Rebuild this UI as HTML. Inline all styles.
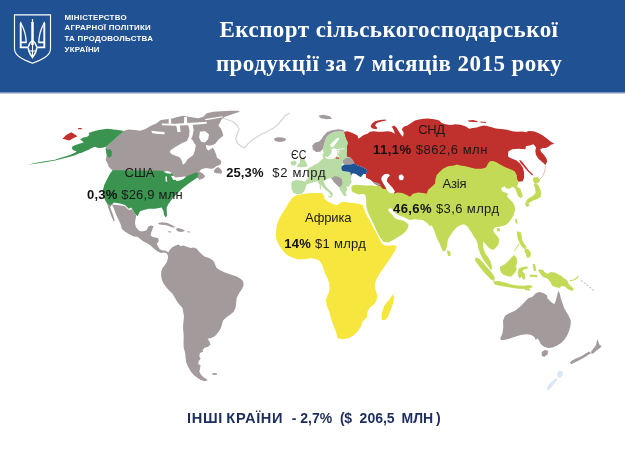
<!DOCTYPE html>
<html lang="uk">
<head>
<meta charset="utf-8">
<title>Експорт сільськогосподарської продукції</title>
<style>
html,body{margin:0;padding:0;}
body{width:625px;height:468px;overflow:hidden;background:#fff;position:relative;font-family:"Liberation Sans",sans-serif;}
#hdr{position:absolute;left:0;top:0;width:625px;height:91.5px;background:#205192;}
#hdr:after{content:"";position:absolute;left:0;right:0;bottom:-2px;height:2px;background:linear-gradient(#5d7db5,#dfe6f1);}
#min{position:absolute;left:64.5px;top:12.6px;color:#fff;font-weight:bold;font-size:7.9px;line-height:10.85px;letter-spacing:0.25px;white-space:nowrap;}
#title{position:absolute;left:150px;width:478px;top:12.8px;text-align:center;color:#fff;font-family:"Liberation Serif",serif;font-weight:bold;font-size:23px;letter-spacing:0.45px;line-height:34px;white-space:nowrap;}
#map{position:absolute;left:0;top:0;filter:blur(0.45px);}
.lb{position:absolute;white-space:nowrap;color:#1a1a1a;font-size:13px;line-height:14px;}
.lb b{font-weight:bold;color:#111;}
#foot{position:absolute;left:0;top:409.6px;font-weight:bold;font-size:14px;line-height:16px;color:#1c2d5e;white-space:pre;}
#foot span{position:absolute;top:0;}
</style>
</head>
<body>
<svg id="map" width="625" height="468" viewBox="0 0 625 468">
<path d="M123.5 131 L128 129.5 L135 130 L140.0 130.8 L145.0 129.2 L149.2 126.7 L152.5 125.0 L156.7 123.3 L160.8 120.0 L166.7 119.2 L173.3 118.3 L178.3 116.7 L183.3 115.8 L188.3 116.7 L193.3 117.5 L198.3 118.3 L203.3 116.7 L206.7 113.3 L213.3 111.7 L221.7 111.2 L230.0 110.8 L237.5 110.8 L240.0 111.7 L235.0 113.3 L230.0 115.0 L225.0 116.7 L221.7 119.2 L220.0 122.5 L218.3 125.8 L220.8 128.3 L222.5 132.5 L223.3 135.8 L220.0 138.3 L217.5 140.8 L215.8 143.3 L213.3 145.0 L210.8 146.7 L212.7 147.7 L214.6 150.6 L216.1 154.4 L217.0 157.8 L219.4 159.2 L221.3 161.2 L220.9 164.0 L218.5 165.5 L216.5 166.0 L214.1 167.9 L211.7 168.8 L208.8 168.4 L206.0 167.9 L203.1 168.8 L200.7 169.8 L199.2 171.7 L200.7 172.2 L203.1 173.7 L205.0 176.1 L204.0 178.0 L201.6 178.9 L199.2 179.9 L198.3 178.0 L194.4 178.5 L184.8 176.5 L150 180 L113 171 L111.2 169.3 L108.7 166.8 L107.4 163.1 L105.6 160 L106.5 156 L106 150 L106.2 146.8Z" fill="#a39a9b"/>
<path d="M170.8 150.0 L175.8 146.7 L181.7 143.3 L187.5 140.8 L190.0 138.7 L192.5 140.0 L194.2 143.3 L195.8 145.0 L195.0 150.0 L193.3 155.0 L190.0 157.5 L187.5 159.2 L185.0 163.3 L183.0 164.7 L181.7 160.8 L180.0 157.5 L175.8 155.8 L171.7 154.2 L169.7 152.0Z" fill="#ffffff"/>
<path d="M199.9 131.8 L204.9 131.0 L208.9 134.3 L208.2 139.0 L204.9 142.5 L201.2 141.8 L199.1 137.5Z" fill="#ffffff"/>
<path d="M187.5 147.4 L190.9 139.7 L192.4 136.0 L189.2 136.0 L187.5 139.7 L185.0 146.8Z" fill="#ffffff"/>
<path d="M205.8 145.0 L210.0 145.8 L213.3 144.7 L212.0 148.3 L208.3 150.8 L206.3 148.3Z" fill="#ffffff"/>
<path d="M161.9 123.5 L175.0 123.7 L187.5 123.1 L199.9 122.2 L206.8 121.7 L206.8 123.7 L199.9 124.2 L187.5 125.2 L175.0 125.7 L161.9 125.2Z" fill="#ffffff"/>
<path d="M176.2 125.0 L179.7 125.0 L180.7 131.8 L177.5 132.2Z" fill="#ffffff"/>
<path d="M188.1 124.7 L192.7 124.7 L193.7 130.0 L192.4 136.2 L189.2 136.2 L189.5 130.0Z" fill="#ffffff"/>
<path d="M151.2 130.7 L157.5 131.5 L164.4 132.0 L164.7 134.2 L157.5 134.0 L152.5 133.2Z" fill="#ffffff"/>
<path d="M184.2 117.0 L187.0 117.0 L187.2 123.7 L184.0 123.7Z" fill="#ffffff"/>
<path d="M168.7 117.5 L171.0 117.5 L171.2 123.7 L168.7 123.7Z" fill="#ffffff"/>
<path d="M204.9 119.0 L214.9 117.5 L222.4 116.2 L223.0 117.2 L214.9 118.7 L205.6 120.2Z" fill="#ffffff"/>
<path d="M213.7 170.8 L216.1 167.9 L218.0 166.9 L219.9 168.4 L221.3 169.8 L222.3 172.2 L220.9 173.7 L218.5 173.2 L216.1 173.2 L214.1 172.2Z" fill="#a39a9b"/>
<path d="M88.7 133.1 L93.7 131.2 L99.9 129.7 L107.4 128.7 L113.7 129.4 L119.9 130.2 L123.7 131 L106.2 146.8 L102.4 147.7 L98.1 148.1 L95 146.8 L91.8 148.1 L88.7 149.7 L85 151.2 L81.8 152.7 L78.7 153.5 L75 155.2 L70 156.8 L65 158.1 L60 159.3 L55 160.6 L45 162.3 L35 163.8 L27.5 164.7 L35 163 L45 161.3 L55 159.7 L60 158.1 L65 156.6 L70 155 L75 152.7 L76.8 151.2 L73.7 150.6 L71.9 148.7 L72.5 146.2 L75.6 145 L79.3 143.7 L83.7 142.5 L81.8 140.6 L80 139.4 L83.1 137.5 L86.8 136.9 L89.3 135Z" fill="#3a934e"/>
<path d="M106.2 146.8 L106.8 150 L109.9 149 L111.8 151.2 L111.8 155.6 L109.9 157.5 L107.4 156.8 L106.8 153.7 L105.5 149Z" fill="#3a934e"/>
<path d="M62.5 138.7 L66.2 135 L71.2 132.2 L73.7 133.7 L77.5 136.2 L73.7 138.1 L69.4 140.6 L65.6 139.4Z" fill="#c0302d"/>
<path d="M78.1 128.1 L81.8 128 L81.8 129.2 L78.1 129.2Z" fill="#c0302d"/>
<path d="M112.5 170.3 L163.3 170.8 L161.7 170.8 L165.0 171.3 L171.7 172.5 L173.3 175.8 L175.8 180.0 L180.0 180.0 L184.2 178.3 L187.5 175.8 L191.7 174.2 L195.8 172.5 L198.3 173.3 L197.5 176.7 L195.0 179.2 L190.0 182.5 L185.8 185.8 L182.5 188.3 L180.0 190.8 L176.7 194.2 L173.3 197.5 L170.8 200.8 L168.3 204.2 L166.7 207.5 L166.7 211.7 L167.0 215.8 L165.8 217.5 L164.2 215.0 L163.3 210.8 L161.7 207.5 L155.0 208.8 L148.8 208.8 L143.8 210.0 L140.0 211.2 L137.5 216.2 L135.0 213.8 L131.2 207.5 L128.8 208.8 L125.0 205.0 L121.2 203.8 L113.8 202.5 L110.0 206.7 L107.5 204.2 L105.0 200.0 L103.3 195.0 L103.0 190.0 L104.2 185.0 L106.7 180.0 L109.2 175.0Z" fill="#3a934e"/>
<path d="M163.3 171.7 L167.5 171.0 L172.0 172.7 L170.8 173.8 L166.7 173.3Z" fill="#ffffff"/>
<path d="M165.3 176.7 L166.8 176.3 L167.2 181.7 L165.8 181.7Z" fill="#ffffff"/>
<path d="M170.8 175.7 L174.2 176.0 L176.0 179.7 L173.3 180.0Z" fill="#ffffff"/>
<path d="M176.0 180.0 L180.0 179.3 L183.7 177.7 L184.0 178.7 L180.0 180.5 L176.3 181.0Z" fill="#ffffff"/>
<path d="M108.7 203.7 L113.7 204.7 L119.3 205.2 L125 206.2 L127.5 208.7 L129.3 209.9 L131.8 209.3 L133.7 211.2 L135.6 214.3 L136.2 215.6 L135.6 218.7 L135 222.5 L135.6 226.2 L137.5 229.3 L140 231.2 L143.7 231.2 L146.8 230 L148.1 226.8 L150.6 225.6 L153.7 226.2 L152.4 229.3 L151.2 232.5 L150.6 235.6 L152.4 236.8 L154.9 237.5 L158.1 238.1 L158.7 241.2 L156.8 243.7 L158.1 246.8 L159.9 249.3 L162.4 250.6 L164.9 250.4 L167.5 251.8 L169.5 254 L169.3 258 L168 254.9 L166.2 253.1 L163.7 252.4 L161.2 253.1 L158.1 251.8 L155.6 249.9 L153.1 248.1 L150.6 245.6 L146.8 243.1 L143.1 241.2 L140 238.7 L137.5 236.8 L133.7 236.5 L129.3 234.3 L125 231.8 L121.8 228.7 L120.6 224.3 L118.7 220 L116.2 215 L114.4 210 L112.5 205.6Z" fill="#a39a9b"/>
<path d="M107.5 203.7 L109.4 204.4 L111.2 210 L113.1 215 L114.7 220.6 L113.7 221.5 L111.9 217.5 L110 212.5 L108.1 207.5Z" fill="#a39a9b"/>
<path d="M158.1 223.1 L162.4 222.2 L167.4 223.1 L171.8 225 L174.9 226.8 L173.7 227.7 L169.9 226.5 L165.5 225 L161.2 224.7 L158.7 224.3Z" fill="#a39a9b"/>
<path d="M175.6 228.7 L178.7 228.1 L183.1 229.4 L185 231 L181.2 231.9 L177.5 231.2Z" fill="#a39a9b"/>
<path d="M187.5 231.2 L190 231.4 L190 232.4 L187.5 232.2Z" fill="#a39a9b"/>
<path d="M168.1 231.2 L171.2 231.4 L171.2 232.4 L168.1 232.2Z" fill="#a39a9b"/>
<path d="M167.5 253.7 L169.4 250.6 L171.9 247.5 L175.6 245.6 L178.7 244.4 L180.6 246.2 L183.1 245.6 L186.8 246.8 L190.6 248.1 L193.7 247.5 L196.8 248.7 L198.7 251.2 L201.8 254.3 L204.9 256.8 L209.3 258.1 L213.1 260.6 L214.9 263.7 L216.2 267.4 L219.9 269.9 L224.9 272.4 L229.9 274.3 L236.2 276.2 L240.6 278.7 L243.1 281.2 L243.7 285 L241.8 289.3 L239.3 293.1 L236.8 297.5 L236.2 302.5 L235.6 307.4 L233.7 311.8 L229.9 314.9 L226.2 317.4 L223.1 320.5 L221.8 325 L220.6 328.7 L218.1 332.5 L214.9 336.2 L211.2 338.1 L207.5 338.7 L209.3 341.2 L210.6 344.4 L208.1 346.8 L204.3 348.1 L202.5 350 L203.1 351.8 L200 353.1 L199.3 356.2 L200.6 358.7 L198.7 361.2 L198.1 363.7 L200.6 365.6 L200 368.7 L199.3 371.8 L201.2 374.9 L203.7 377.4 L206.8 379.3 L207.5 380.6 L204.3 381.2 L201.2 379.9 L197.5 378.1 L193.7 374.9 L190.6 371.2 L188.1 366.8 L186.2 362.5 L185.6 357.5 L185 352.5 L183.7 347.5 L183.5 342.5 L183.7 337.5 L183.5 332.5 L183.1 328.7 L183.1 325 L184 316.7 L182.5 308 L178 303 L172.5 293.7 L167.5 288.7 L163.7 283.7 L161.9 279.9 L161.2 276.2 L161.2 271.8 L162.5 268.1 L165 264.9 L166.9 261.8 L168.1 257.5Z" fill="#a39a9b"/>
<path d="M212.4 373.1 L216.8 373.3 L216.8 374.9 L212.4 374.7Z" fill="#a39a9b"/>
<path d="M292.5 197.5 L296.7 195.3 L301.7 194.2 L308.3 193.3 L315.8 193 L321.7 193 L323.7 195 L324.7 199.2 L328.3 201.7 L333.3 204.2 L337.5 205.3 L340 202.8 L343.3 201.7 L348.3 202.5 L353.3 203 L358.3 203.7 L362.5 204.7 L363.3 206.7 L365 211.7 L367.5 216.7 L370 220.8 L372.5 225.8 L375 230.8 L377.5 235 L380 240 L382 243.5 L384.2 245.2 L388.3 245.8 L393.3 245.3 L396.7 245.8 L395.3 250 L392.5 255 L389.2 260 L385 265.8 L381.7 270.8 L378.3 275.8 L375.8 280.8 L374.7 285.8 L375.8 290.8 L377.5 295.8 L376.7 300 L374.2 304.2 L370 307.5 L367.5 311.7 L366.7 317.5 L362.5 321.7 L360.8 326.7 L357.5 331.7 L353.3 335.8 L348.3 338.3 L342.5 339.2 L337.5 338.3 L336.7 334.2 L335 329.2 L332.5 323.3 L330.8 317.5 L329.2 311.7 L326.7 305.8 L325.8 300 L327.5 295 L328.7 293.3 L329.7 288.3 L329.2 283.3 L327.5 278.3 L325 273.3 L323.3 268.3 L322 264.2 L319.5 260.8 L315.3 258.7 L310.3 258.3 L304.5 259.2 L297.8 259.2 L292 257.5 L287 255 L282.8 250.8 L279.5 245.8 L277 240.8 L275.7 235.8 L276.2 230.8 L276.7 225 L278.7 220 L281.2 215 L284.5 210 L288.3 203.5Z" fill="#f6e63e"/>
<path d="M392.5 294.2 L394.2 297.5 L393.3 302.5 L391.7 307.5 L389.7 312.5 L387.5 317.5 L385 320.3 L382 320 L381.3 315.8 L382.5 310.8 L384.2 305.8 L386.7 302.5 L389.7 299.2Z" fill="#f6e63e"/>
<path d="M352.5 185.6 L357.5 184.4 L365 185 L372.5 185.6 L376.8 186.2 L382 182 L400 172 L440 160 L490 152 L512 160 L518.5 181.8 L517.8 184.3 L517.2 186.8 L520.3 188.7 L521.6 192.5 L522.8 196.2 L521 198.1 L518.5 196.8 L517.2 193.7 L516 190.6 L514.7 188.1 L512.2 186.8 L509.7 188.7 L506.6 188.5 L504.7 186.2 L501 188.1 L502.2 191.2 L505.4 192.5 L507.9 193.7 L507.2 196.8 L509.7 199.3 L512.9 202.4 L514.7 206.2 L515.2 209.9 L514.3 212.5 L513.1 216.2 L511.2 219.3 L508.7 222.5 L505.6 225 L501.8 226.2 L498.7 226.8 L495 227.5 L493.1 230 L494.3 233.1 L496.8 235.6 L499.3 239.3 L498.7 243.7 L496.8 246.8 L493.3 250 L489.2 248.3 L485.8 244.2 L483.3 241.7 L482 245 L482.5 250 L484.2 255.8 L486.7 260 L490 264.2 L492 268.3 L490.8 270 L489.2 266.7 L485.8 263.3 L482.5 258.3 L480 253.3 L478.3 248.3 L477.5 243.3 L475.8 239.2 L473.3 235.8 L471.7 232.5 L469.7 230 L467.2 226.2 L464 224.3 L459.7 225.6 L455.9 228.1 L452.8 231.8 L449.7 236.2 L447.8 240 L447.2 245 L445.9 250 L443.4 251.8 L441.6 248.7 L439.7 243.7 L437.2 238.7 L435.3 233.7 L433.5 228.7 L431.6 225.3 L429.7 226.2 L427.2 223.1 L422.8 220 L419.9 219.7 L414.9 219.3 L409.9 220 L406.8 218.7 L403.1 216.8 L399.3 215.6 L396.2 213.7 L393.7 210.6 L390.6 208.1 L388.1 209.3 L388.7 211.2 L391.8 214.3 L394.3 217.5 L396.8 219.3 L399.3 219.7 L403.1 220.6 L406.8 223.1 L408.7 224.9 L407.9 228.1 L405.4 231.8 L401.6 235 L397.2 237.5 L393.3 240 L388.3 242.5 L383.3 241.7 L380.6 238 L378.7 234.9 L376.2 229.9 L373.1 223.1 L370 216.8 L367.5 211.2 L366.2 205.6 L366.2 200 L365.6 195.6 L363.7 193.7 L358.7 194.4 L353.7 192.5 L351.9 191.2 L351.2 187.5Z" fill="#c2da55"/>
<path d="M447.2 250 L450.3 251.8 L450.9 255.6 L448.4 256.2 L447.2 253.1Z" fill="#c2da55"/>
<path d="M496.8 228.3 L499.5 228.1 L500 231 L497.2 231.4Z" fill="#c2da55"/>
<path d="M515.2 218.7 L517.2 219.2 L517.4 223.7 L515.6 223.2Z" fill="#c2da55"/>
<path d="M343.7 131.8 L347.5 131.2 L352.5 133.1 L357.5 135.6 L358.5 138.7 L360.3 137.5 L363.7 135 L367.5 133.7 L370 131.8 L373.7 131.2 L377.5 131.8 L382.4 131.8 L387.4 131.2 L391.2 131.8 L394.9 133.7 L393.7 130 L391.8 126.8 L394.3 125.6 L396.8 128.1 L398.7 131.2 L401.2 135 L403 136.8 L403.7 133.1 L401.8 129.3 L403.7 126.8 L407.4 125.6 L411.2 123.1 L414.9 120.6 L418 119.7 L423 118.7 L428 118.5 L434.2 119.3 L439.2 120.6 L441.7 123.1 L445.5 124.3 L450.5 125 L455.5 124.3 L460.4 124.7 L465.4 126.2 L469.2 128.7 L472.9 128.1 L476.7 127.5 L480.4 126.2 L484.2 125.6 L487.9 126.2 L491.7 127.2 L496 128.4 L501 129 L507.2 129.7 L512.2 131.2 L517.2 131.8 L522.2 131.5 L526 132.2 L528.5 131 L533.5 131.2 L538.4 133.1 L542.8 135.6 L547.2 138.7 L550.9 141.8 L554.4 143.7 L550.9 144.7 L548.4 146.8 L545.9 148.1 L542.8 148.1 L540.3 149.3 L540.9 151.8 L544.1 154.9 L546.6 158.7 L547.2 161.2 L545.5 165 L542.2 161.9 L538.4 158.7 L536 154.9 L535.3 151.2 L536 147.4 L533.5 144.3 L529.7 145.6 L526 146.2 L525.3 149.3 L518.5 148.7 L512.2 149.3 L508.5 151.2 L507.9 154.9 L508.5 156.9 L512.2 158.7 L516.6 160.6 L520.3 163.7 L522.8 167.5 L524.1 172.5 L524.1 177.5 L522.8 181.2 L518.5 181.8 L517.2 179.3 L516.6 175 L514.7 171.2 L511 169.4 L506 167.5 L501 165 L496 161.9 L492.9 161 L489.8 161.2 L487.9 163.7 L486 167.5 L481.7 168.7 L475.4 168.7 L470.4 167.5 L465.4 166.2 L460.4 165.6 L456.7 164.4 L454.2 165.6 L448 166.2 L443 168.7 L439.8 171.8 L436.7 175 L435.5 179.3 L434.9 183.7 L431.7 186.8 L428 190 L426.7 193.7 L423 193.1 L418 192.4 L413 193.7 L409.9 196.8 L406.8 194.9 L402.4 193.1 L397.4 192.4 L393.7 193.7 L386.2 189.3 L382.7 188.7 L380.6 186.2 L376.8 185 L373.7 183.1 L370.6 180 L366.2 178.1 L365.6 174.3 L367.2 172.1 L366.5 169.6 L362.2 167.1 L357.2 165.2 L354.1 163.3 L352.8 160.2 L349.7 157.1 L345.9 156.7 L345.9 154 L346.9 150.8 L346.6 147.1 L347.8 142.7 L345.9 139 L344.7 135.2Z" fill="#c0302d"/>
<path d="M370.6 126.8 L371.8 123.7 L375 121.2 L380 120 L385.6 119.4 L386.2 120.6 L381.2 121.6 L376.8 123.1 L375 125.6 L377.5 128.1 L376.2 129.3 L372.5 128.5Z" fill="#c0302d"/>
<path d="M467.9 120.6 L473 120 L477.9 121.2 L477 122.3 L469 121.8Z" fill="#c0302d"/>
<path d="M480.4 121.6 L486 121.9 L486 122.9 L480.4 122.5Z" fill="#c0302d"/>
<path d="M381.8 176.8 L384.3 174.3 L388.1 173.7 L390 175.6 L387.5 178.1 L386.8 181.2 L389.3 184.3 L392.4 187.5 L394.9 191.2 L393.7 193.7 L390 193.1 L386.8 190 L385 186.2 L382.7 182.5 L381.2 179.3Z" fill="#ffffff"/>
<path d="M398.9 175.6 L401.8 174.3 L403.9 176.8 L403.1 180 L399.9 180.2 L398.7 178.1Z" fill="#ffffff"/>
<path d="M519.1 160 L521 160.6 L524.7 165 L528.5 170 L532.2 173.7 L533.5 175.6 L531.6 175 L527.8 171.2 L524.1 166.9 L520.3 162.5Z" fill="#c0302d"/>
<path d="M545.8 166 L544.5 172 L542 177 L539.5 179.5" fill="none" stroke="#e9a9ac" stroke-width="0.8"/>
<path d="M373.1 181.8 L376.8 182.5 L380.6 184.3 L380 185.8 L376.2 184.6 L373.7 183.6Z" fill="#a39a9b"/>
<path d="M307.5 168.7 L311.2 166.8 L314.3 165 L318.1 163.1 L321.2 160 L323.1 158.7 L322.4 153.7 L324.9 153.7 L325.6 158.1 L328.7 159.3 L332.4 158.7 L336.2 158.1 L339.1 157.7 L337.8 154 L339.1 152.1 L339.7 150.2 L343.4 149 L346.6 147.7 L347 157 L342.8 160.2 L342.8 163.3 L341.6 166.4 L341.2 168.3 L342.2 170.8 L345.9 171.4 L349.7 172.1 L351.8 176.2 L351.2 178.7 L351.9 182.5 L350 184.5 L348.7 186.8 L346.2 186.8 L347.4 189.3 L345.5 192.5 L346.8 195.6 L344.3 196.2 L342.4 193.7 L340.5 190.6 L338.7 186.8 L336.2 184.3 L333.7 181.8 L331.2 178.1 L326 179.3 L323.7 181.8 L324.9 185 L327.4 188.1 L329.9 190.6 L332.4 193.1 L333.1 195.6 L331.2 196.2 L329.9 193.7 L328.1 191.8 L325.6 190 L323.1 187.5 L321.2 185 L318.7 183.7 L317.5 181.2 L315 181.8 L311.2 183.1 L306.8 184.3 L305.6 187.5 L304.3 191.2 L301.8 193.7 L297.5 194.3 L293.7 193.1 L291.9 190 L291.2 185.6 L291.9 181.2 L296.2 180 L300.6 180.6 L305 181.5 L307.5 178.7 L308.7 175 L308.1 172.5Z" fill="#b8dca3"/>
<path d="M300 158.7 L304.3 158.1 L305.6 161.8 L307.5 165 L306.8 166.8 L301.2 167.2 L296.8 166.8 L298.1 164.3 L300 162.5Z" fill="#b8dca3"/>
<path d="M290.6 161.8 L295 160.6 L296.8 163.1 L295 165.6 L291.2 165.2Z" fill="#b8dca3"/>
<path d="M319.7 184.3 L320.9 184.5 L321 189.3 L319.7 189.1Z" fill="#b8dca3"/>
<path d="M328.1 195.8 L331.8 196.3 L331.5 197.8 L328.5 197.2Z" fill="#b8dca3"/>
<path d="M325.3 139.6 L327.2 135.9 L330.3 133.4 L334.7 131.7 L339.7 131.2 L344.1 131.5 L344.7 135.2 L345.9 139 L347.8 142.7 L346.6 147.1 L346.6 150 L338 151 L337.5 157 L329.7 157.4 L326.6 157.1 L324.1 155.2 L322.8 149 L324.1 144Z" fill="#b6dca6"/>
<path d="M337.8 137.8 L339.2 138.5 L338.5 140.3 L336.7 142.2 L335.2 144.3 L333.8 146.5 L331.6 147.2 L330.2 146.2 L330.5 144 L332.3 142.5 L334.1 141.1 L335.6 139.3Z" fill="#ffffff"/>
<path d="M331.2 149.1 L333.8 148.3 L336.3 149.1 L341 148.7 L344.7 148.5 L344.7 149.1 L341 149.4 L337.4 150.1 L337.1 152.7 L337.4 154.9 L336 156.7 L333.8 157.4 L331.6 157 L329.4 157.8 L327.6 157.4 L329.4 155.6 L331.2 153.4 L331.6 151.2Z" fill="#ffffff"/>
<path d="M312.2 145.8 L314.7 142.7 L319.1 141.5 L321.6 139 L324.1 135.2 L327.2 132.1 L332.2 130.2 L338.4 129.2 L343.4 130 L344.1 131.5 L339.7 131.2 L334.7 131.7 L330.3 133.4 L327.2 135.9 L325.3 139.6 L324.1 144 L322.8 149 L320.3 151.7 L316 152.1 L312.9 149.6Z" fill="#a39a9b"/>
<path d="M342.8 160.2 L345.9 157.7 L349.7 157.1 L352.8 160.2 L354.1 163.3 L350.9 164.6 L345.9 164.6 L342.8 163.3Z" fill="#a39a9b"/>
<path d="M341.6 166.4 L344.1 164.6 L350.9 164.6 L354.1 163.3 L357.2 165.2 L362.2 167.1 L366.5 169.6 L367.2 172.1 L365.6 174.3 L362.5 175 L361.2 176.8 L360.3 177.7 L358.4 175.8 L355.9 173.9 L352.8 173.3 L350.9 175.2 L349.7 172.1 L345.9 171.4 L342.2 170.8 L341.2 168.3Z" fill="#205296"/>
<path d="M349.7 172.1 L350.9 172.4 L351.8 175.8 L350.9 175.2Z" fill="#a39a9b"/>
<path d="M335.7 157.3 L339.1 157.5 L339.1 158.8 L335.7 158.6Z" fill="#c0302d"/>
<path d="M331.2 178.1 L334.9 176.2 L338.7 176.8 L341.8 179.3 L342.4 183.1 L341.2 186.2 L338.7 186.8 L336.2 184.3 L333.7 181.8Z" fill="#a39a9b"/>
<path d="M273.7 138.7 L277.5 137.2 L282.5 137.5 L286.2 138.7 L285 141 L280 141.9 L275.6 141.2Z" fill="#a39a9b"/>
<path d="M318.3 115.8 L323.3 114.7 L330 116.3 L332 118.7 L326.7 119.3 L320.8 118.3Z" fill="#a39a9b"/>
<path d="M351.9 175.6 L355.6 175 L358.7 176.2 L361.9 177.5 L366.2 178.1 L370.6 180 L373.7 183.1 L371.2 185 L366.2 185.6 L360 185 L355 184.3 L351.9 182.5 L351.2 178.7Z" fill="#ffffff"/>
<path d="M362.8 173.8 L365.4 174.2 L366.2 176.6 L363.5 176.4Z" fill="#ffffff"/>
<path d="M222.5 118.0 L228.3 120.0 L233.3 121.7 L236.7 125.0 L239.2 129.2 L237.5 133.3 L235.8 138.3 L237.5 143.3 L241.7 146.7 L244.7 147.8 L248.3 143.3 L253.3 139.2 L260.0 135.0 L266.7 131.7 L273.3 128.3 L277.5 125.0 L281.7 120.0 L285.0 115.8 L290.0 113.0" fill="none" stroke="#d4d4d4" stroke-width="1.2"/>
<path d="M533.5 178.1 L537.2 177.5 L539.7 180 L538.4 182.5 L535.3 183.1 L533.5 181.2Z" fill="#c2da55" stroke="#c2da55" stroke-width="0.9"/>
<path d="M535.3 183.1 L537.8 185 L539.7 188.7 L540.9 193.1 L540.3 196.8 L537.2 198.7 L533.5 199.9 L530.3 201.8 L527.8 203.1 L526 201.8 L527.8 199.3 L531 197.4 L534.1 195.6 L536 192.5 L535.7 188.1 L534.1 185Z" fill="#c2da55" stroke="#c2da55" stroke-width="0.9"/>
<path d="M525.3 203.1 L528.5 203.7 L529.1 205.6 L526.6 206.4Z" fill="#c2da55" stroke="#c2da55" stroke-width="0.9"/>
<path d="M517.4 231.8 L520.6 232.5 L521.8 240 L523.7 243.7 L526.2 246.9 L524.9 248.7 L522.4 246.9 L519.9 242.5 L518.1 238.7Z" fill="#c2da55" stroke="#c2da55" stroke-width="0.9"/>
<path d="M525.6 248.7 L528.7 250 L530.5 253.1 L529.9 256.8 L527.4 257.5 L526.2 253.7 L524.9 251.2Z" fill="#c2da55" stroke="#c2da55" stroke-width="0.9"/>
<path d="M514.3 251.2 L519.3 243.7" fill="none" stroke="#c2da55" stroke-width="1.0"/>
<path d="M480 241.9 L482.5 242.5 L483.1 248.7 L485 253.7 L487.5 256.8 L490 261.2 L491.5 266 L490.8 269.5 L488.7 266.2 L486.2 262.5 L483.7 258.1 L481.9 253.7 L480.6 248.7Z" fill="#c2da55" stroke="#c2da55" stroke-width="0.8"/>
<path d="M475.6 258.1 L478.7 258.7 L482.5 262.5 L486.9 267.5 L491.2 272.5 L494.3 277.4 L493.7 280.6 L490.6 278.7 L486.9 275 L482.5 270 L478.7 265 L475.6 260.6Z" fill="#c2da55" stroke="#c2da55" stroke-width="0.9"/>
<path d="M493.7 281.8 L498.7 281.4 L505 283.1 L511.2 284.9 L517.4 285.9 L523.7 286.2 L529.9 285.6 L532.4 286.8 L528.7 288.1 L522.4 288.4 L516.2 288.1 L508.7 286.8 L501.2 285.6 L495 284.3Z" fill="#c2da55" stroke="#c2da55" stroke-width="0.9"/>
<path d="M524.9 288.4 L529.9 289 L529.5 290.3 L525.2 289.6Z" fill="#c2da55" stroke="#c2da55" stroke-width="0.9"/>
<path d="M500.6 266.8 L504.3 265 L508.1 261.8 L511.8 257.5 L514.3 255.6 L516.2 258.1 L516.8 261.8 L515.6 266.2 L516.2 269.3 L514.3 273.1 L511.2 276.2 L506.8 275.6 L502.5 273.7 L500.6 270.6Z" fill="#c2da55" stroke="#c2da55" stroke-width="0.9"/>
<path d="M519.3 268.7 L522.4 267.5 L526.8 266.8 L527.4 268.1 L523.7 269.3 L521.8 271.2 L524.3 273.7 L524.9 278.7 L523.1 279.3 L521.8 275.6 L519.9 278.1 L518.7 276.2 L518.1 271.8Z" fill="#c2da55" stroke="#c2da55" stroke-width="0.9"/>
<path d="M533.1 264.4 L534.6 264.6 L535.8 270.6 L534.2 270.4Z" fill="#c2da55" stroke="#c2da55" stroke-width="0.9"/>
<path d="M530 275 L537 275.5 L537 276.8 L530 276.3Z" fill="#c2da55" stroke="#c2da55" stroke-width="0.9"/>
<path d="M538.7 270 L542.5 270 L545 273.1 L547.5 274.3 L550.6 272.5 L555 273.1 L560 275.6 L564.3 278.7 L567.5 281.2 L568.1 283.7 L570.6 286.2 L573.7 289.3 L571.8 290.6 L568.1 288.7 L565 286.2 L561.8 285.6 L559.3 287.5 L556.2 286.8 L552.5 285.6 L551.2 282.5 L548.7 279.3 L546.2 277.5 L543.1 276.8 L541.2 274.3 L539.4 271.8Z" fill="#c2da55" stroke="#c2da55" stroke-width="0.9"/>
<path d="M570 280.6 L573.7 280 L576.8 278.1 L578.1 276.2" fill="none" stroke="#c2da55" stroke-width="1.2"/>
<path d="M581.2 280.6 L585 283.5 L589 286.5 L593.7 290.6" fill="none" stroke="#c9c5c7" stroke-width="1.2" stroke-dasharray="2 1.5"/>
<path d="M500.3 338.3 L502.5 333.3 L503.3 326.7 L503 320.8 L505 315.8 L509.2 313.3 L515 310.8 L520 306.7 L524.2 302.5 L528.3 298.3 L532.5 296.7 L535.8 293.3 L539.2 292 L543.3 293 L546.7 295 L547.5 298.3 L550.8 301.7 L554.2 304.2 L555.8 300.8 L557 295.8 L558.3 290.8 L559.7 293.3 L560.8 298.3 L562.5 303.3 L564.2 308.3 L566.7 312.5 L569.2 316.7 L570.8 320.8 L570.5 325.8 L569.2 330.8 L567 335.8 L564.2 340 L560.8 343.3 L556.7 345.8 L552.5 347.5 L548.3 348 L544.2 346.7 L540.8 344.2 L539.2 340.8 L537.5 338.3 L535.8 340 L534.2 336.7 L530.8 334.7 L525.8 334.2 L520.8 335 L515 336.7 L509.2 338.7 L504.2 340 L500.8 340Z" fill="#a39a9b"/>
<path d="M541.7 351.7 L545 350 L548.3 350.8 L547.5 354.2 L544.2 357 L541.7 355.8Z" fill="#a39a9b"/>
<path d="M569.9 362.7 L572.1 360.5 L576.4 358.3 L581.5 356.2 L585.9 353.3 L589.5 351.5 L591 353.3 L587.3 355.4 L583 358.3 L578.6 360.5 L574.2 362.7 L571.3 364.2Z" fill="#a39a9b"/>
<path d="M591 351.8 L593.1 348.9 L596 345.3 L596.8 340.9 L597.8 339.4 L598.7 343.1 L599.7 345.3 L601.9 345.7 L599.7 348.2 L596.8 350.3 L593.9 353 L591.7 354Z" fill="#a39a9b"/>
<path d="M546.4 388.4 L549 384.2 L553 380.3 L556.3 377.9 L557.6 380.1 L554.4 383.6 L551.5 387.2 L548.3 390.3Z" fill="#dbe7f3"/>
<path d="M557 373.8 L558.8 370.6 L562.6 371.6 L562.6 375.5 L560 378 L557.6 377Z" fill="#dbe7f3"/>
</svg>
<div id="hdr">
<svg width="70" height="91" viewBox="0 0 70 91" style="position:absolute;left:0;top:0">
<path d="M14.5 14.8 H50.5 V49 C50.5 56 41 60 32.5 63.300 C24 60 14.5 56 14.5 49 Z" fill="none" stroke="#fff" stroke-width="1.15"/>
<g fill="none" stroke="#fff" stroke-width="1.9" stroke-linejoin="miter" stroke-linecap="butt">
<path d="M20.7 23 V47.4 H28.2 M44.3 23 V47.4 H36.8"/>
<path d="M20.7 21.800 L20.7 24 M44.3 21.800 L44.3 24" stroke-width="1.1"/>
<path d="M21 23.5 C23.6 28 26 34 26.300 42.6 M44 23.5 C41.4 28 39 34 38.700 42.6" stroke-width="1.300"/>
<path d="M20.7 42.4 H26.6 M38.4 42.4 H44.3" stroke-width="1.900"/>
<path d="M32.5 22 V45" stroke-width="2.500"/>
<path d="M32.5 19 L32.5 23" stroke-width="1.200"/>
<path d="M32.5 45 V57" stroke-width="1.100"/>
<path d="M28.100 47.4 C28.5 52 30.5 55 32.5 57.7 C34.5 55 36.5 52 36.900 47.4" stroke-width="1.400"/>
<path d="M32.5 40.5 C30.3 41.800 28.900 44 28.300 47 M32.5 40.5 C34.700 41.800 36.100 44 36.700 47" stroke-width="1.300"/>
<path d="M29.300 51 H35.700" stroke-width="1.100"/>
</g>
</svg>
<div id="min">МІНІСТЕРСТВО<br>АГРАРНОЇ ПОЛІТИКИ<br>ТА ПРОДОВОЛЬСТВА<br>УКРАЇНИ</div>
<div id="title">Експорт сільськогосподарської<br>продукції за 7 місяців 2015 року</div>
</div>
<div class="lb" id="l1a" style="left:124.5px;top:165.7px;letter-spacing:0px">США</div>
<div class="lb" id="l1b" style="left:87px;top:188.0px;letter-spacing:0.2px"><b>0,3%</b> $26,9 млн</div>
<div class="lb" id="l2a" style="left:290.8px;top:148.2px;transform:scaleX(0.82);transform-origin:0 0">ЄС</div>
<div class="lb" id="l2b" style="left:226.2px;top:166.2px;letter-spacing:0.1px"><b>25,3%</b><span style="letter-spacing:0.7px;margin-left:8.7px">$2 млрд</span></div>
<div class="lb" id="l3a" style="left:305px;top:211.2px;letter-spacing:-0.15px">Африка</div>
<div class="lb" id="l3b" style="left:284.2px;top:236.7px;letter-spacing:0.3px"><b>14%</b> $1 млрд</div>
<div class="lb" id="l4a" style="left:418.2px;top:123.2px;letter-spacing:-0.3px">СНД</div>
<div class="lb" id="l4b" style="left:373px;top:143.2px;letter-spacing:0.5px"><b>11,1%</b> $862,6 млн</div>
<div class="lb" id="l5a" style="left:442.5px;top:177.0px;letter-spacing:-0.2px">Азія</div>
<div class="lb" id="l5b" style="left:393px;top:202.0px;letter-spacing:0.4px"><b>46,6%</b> $3,6 млрд</div>
<div id="foot"><span style="left:187px;top:-0.1px;font-size:14.6px;letter-spacing:0.65px;word-spacing:-1.3px">ІНШІ КРАЇНИ</span><span style="left:291.7px">-</span><span style="left:300.3px">2,7%</span><span style="left:340px">(</span><span style="left:344.2px">$</span><span style="left:359.6px">206,5</span><span style="left:401.5px">МЛН</span><span style="left:436px">)</span></div>
</body>
</html>
